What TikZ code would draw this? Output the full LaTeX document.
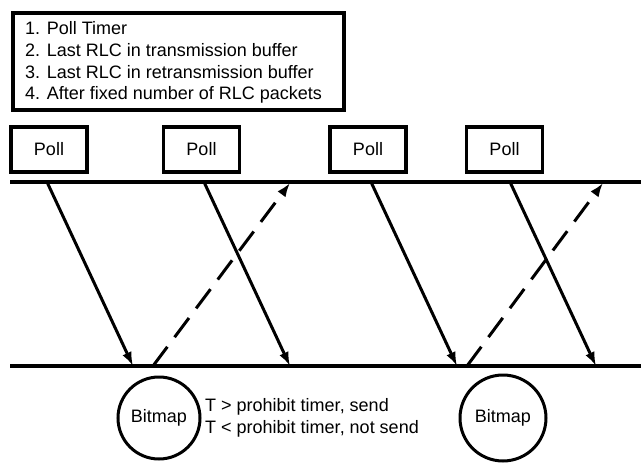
\documentclass[tikz,border=0pt]{standalone}
\usepackage{fontspec}
\setmainfont{Liberation Sans}
\usetikzlibrary{arrows.meta}
\begin{document}
\begin{tikzpicture}[x=1pt,y=-1pt,
  every node/.style={font=\fontsize{18}{21.7}\selectfont},
  pollbox/.style={draw,line width=3.5pt,minimum width=76pt,minimum height=45pt,inner sep=0pt},
  bitmapnode/.style={draw,circle,line width=3pt,minimum size=82pt,inner sep=0pt},
  timeline/.style={line width=3.5pt},
  msg/.style={line width=3pt,-{Latex[length=14pt,width=10pt]}},
  reply/.style={msg,dash pattern=on 24pt off 12pt}]
\useasboundingbox (0,0) rectangle (641,463);
% legend
\node[draw,line width=3.5pt,minimum width=331pt,minimum height=97pt,inner sep=0pt] (legend) at (178.5,61.5) {};
\node[anchor=west,align=left,inner sep=0pt] (legendtext) at (25,62.5)
 {1. Poll Timer\\2. Last RLC in transmission buffer\\3. Last RLC in retransmission buffer\\4. After fixed number of RLC packets};
% poll boxes
\node[pollbox] (p1) at (49,149.5) {Poll};
\node[pollbox] (p2) at (201.5,149.5) {Poll};
\node[pollbox] (p3) at (368,149.5) {Poll};
\node[pollbox] (p4) at (504.5,149.5) {Poll};
% time lines
\coordinate (tl) at (10,182);
\coordinate (tr) at (641,182);
\coordinate (bl) at (10,366);
\coordinate (br) at (641,366);
\draw[timeline] (tl) -- (tr);
\draw[timeline] (bl) -- (br);
% arrow end points
\coordinate (s1) at (47,182);  \coordinate (e1) at (133,366);
\coordinate (s2) at (204,182); \coordinate (e2) at (290,366);
\coordinate (s3) at (371,182); \coordinate (e3) at (457,366);
\coordinate (s4) at (510,182); \coordinate (e4) at (596,366);
\coordinate (r1s) at (153,366); \coordinate (r1e) at (290,183);
\coordinate (r2s) at (467,366); \coordinate (r2e) at (603,183);
\draw[msg] (s1) -- (e1);
\draw[msg] (s2) -- (e2);
\draw[msg] (s3) -- (e3);
\draw[msg] (s4) -- (e4);
\draw[reply] (r1s) -- (r1e);
\draw[reply] (r2s) -- (r2e);
% bitmaps
\node[bitmapnode] (b1) at (159,418) {Bitmap};
\node[bitmapnode,minimum size=86pt] (b2) at (503,418) {Bitmap};
\node[anchor=west,align=left,inner sep=0pt] (cond) at (205,418)
 {T > prohibit timer, send\\T < prohibit timer, not send};
\end{tikzpicture}
\end{document}
